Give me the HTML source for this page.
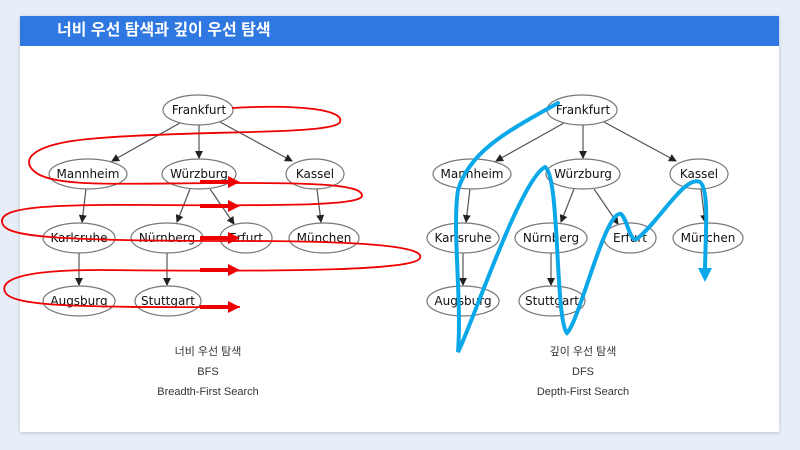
<!DOCTYPE html>
<html><head><meta charset="utf-8"><style>
body{margin:0;width:800px;height:450px;background:#e8eef8;font-family:"Liberation Sans","Noto Sans CJK KR",sans-serif;position:relative;overflow:hidden}
.card{position:absolute;left:20px;top:16px;width:759px;height:416px;background:#fff;box-shadow:0 1px 4px rgba(0,0,0,.18)}
.hd{position:absolute;left:0;top:0;width:759px;height:30px;background:#2f78e2;color:#fff;font-size:16px;line-height:30px;padding-left:37px;box-sizing:border-box;font-weight:bold}
svg{position:absolute;left:0;top:0}
.cap{position:absolute;width:200px;text-align:center;font-size:11px;color:#333;line-height:20px}
</style></head><body>
<div class="card"><div class="hd">너비 우선 탐색과 깊이 우선 탐색</div></div>
<svg width="800" height="450" viewBox="0 0 800 450">
<defs>
<marker id="a" markerWidth="8" markerHeight="8" refX="7" refY="4" orient="auto" markerUnits="userSpaceOnUse"><path d="M0,0 L8,4 L0,8z" fill="#222"/></marker>
<g id="g" font-family="DejaVu Sans, sans-serif" font-size="12" text-anchor="middle" fill="#111">
<g stroke="#555" stroke-width="1.2" marker-end="url(#a)">
<line x1="180" y1="123" x2="112" y2="161"/>
<line x1="199" y1="125" x2="199" y2="158"/>
<line x1="220" y1="122" x2="292" y2="161"/>
<line x1="86" y1="189" x2="82" y2="222"/>
<line x1="190" y1="189" x2="177" y2="222"/>
<line x1="210" y1="189" x2="234" y2="224"/>
<line x1="317" y1="189" x2="321" y2="222"/>
<line x1="79" y1="253" x2="79" y2="285"/>
<line x1="167" y1="253" x2="167" y2="285"/>
</g>
<g fill="#fff" stroke="#777" stroke-width="1.2">
<ellipse cx="198" cy="110" rx="35" ry="15"/>
<ellipse cx="88" cy="174" rx="39" ry="15"/>
<ellipse cx="199" cy="174" rx="37" ry="15"/>
<ellipse cx="315" cy="174" rx="29" ry="15"/>
<ellipse cx="79" cy="238" rx="36" ry="15"/>
<ellipse cx="167" cy="238" rx="36" ry="15"/>
<ellipse cx="246" cy="238" rx="26" ry="15"/>
<ellipse cx="324" cy="238" rx="35" ry="15"/>
<ellipse cx="79" cy="301" rx="36" ry="15"/>
<ellipse cx="168" cy="301" rx="33" ry="15"/>
</g>
<text x="199" y="114">Frankfurt</text>
<text x="88" y="178">Mannheim</text>
<text x="199" y="178">Würzburg</text>
<text x="315" y="178">Kassel</text>
<text x="79" y="242">Karlsruhe</text>
<text x="167" y="242">Nürnberg</text>
<text x="246" y="242">Erfurt</text>
<text x="324" y="242">München</text>
<text x="79" y="305">Augsburg</text>
<text x="168" y="305">Stuttgart</text>
</g>
<marker id="r" markerWidth="12" markerHeight="12" refX="2" refY="6" orient="auto" markerUnits="userSpaceOnUse"><path d="M0,0 L12,6 L0,12z" fill="#e00"/></marker>
<marker id="b" markerWidth="14" markerHeight="14" refX="4" refY="7" orient="auto" markerUnits="userSpaceOnUse"><path d="M0,0 L14,7 L0,14z" fill="#0aa8e8"/></marker>
</defs>
<use href="#g"/>
<use href="#g" x="384"/>
<path d="M232,108 C300,104 345,110 340,122 C335,135 200,130 100,138 C30,143 20,160 35,172 C55,188 120,183 240,183 C320,183 360,185 362,195 C364,205 300,206 150,205 C40,204 0,208 2,222 C4,236 40,241 240,241 C380,241 425,248 420,258 C415,270 300,272 100,270 C20,270 0,280 5,292 C12,305 60,308 240,307" fill="none" stroke="#e00" stroke-width="1.8"/>
<g stroke="#e00" stroke-width="4" marker-end="url(#r)">
<line x1="200" y1="182" x2="230" y2="182"/>
<line x1="200" y1="206" x2="230" y2="206"/>
<line x1="200" y1="238" x2="230" y2="238"/>
<line x1="200" y1="270" x2="230" y2="270"/>
<line x1="200" y1="307" x2="230" y2="307"/>
</g>
<path d="M558,103 C510,130 470,150 458,190 C452,230 462,300 458,352 C470,330 520,180 545,167 C560,175 555,320 567,333 C580,320 605,210 621,214 C628,220 630,245 638,238 C660,220 685,175 700,182 C710,190 705,240 705,272" fill="none" stroke="#0aa8e8" stroke-width="4" stroke-linecap="round" marker-end="url(#b)"/>
</svg>
<div class="cap" style="left:108px;top:342px">너비 우선 탐색<br>BFS<br>Breadth-First Search</div>
<div class="cap" style="left:483px;top:342px">깊이 우선 탐색<br>DFS<br>Depth-First Search</div>
</body></html>
